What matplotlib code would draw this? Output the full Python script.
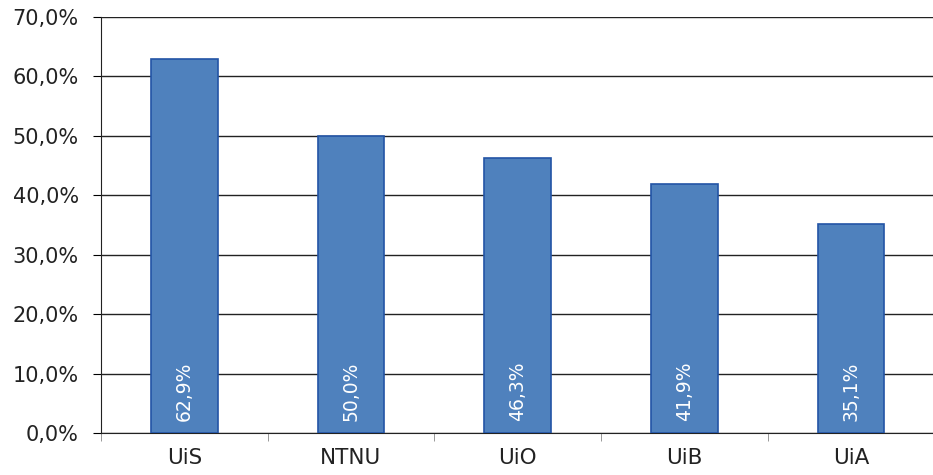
import matplotlib.pyplot as plt
from matplotlib.ticker import FuncFormatter

categories = ['UiS', 'NTNU', 'UiO', 'UiB', 'UiA']
values = [62.9, 50.0, 46.3, 41.9, 35.1]
bar_labels = ['62,9%', '50,0%', '46,3%', '41,9%', '35,1%']

plt.rcParams['font.family'] = ['DejaVu Sans']

fig = plt.figure(figsize=(9.33, 4.75), dpi=100)
ax = fig.add_axes([0.1083, 0.0884, 0.893, 0.876])

x = range(len(categories))
bars = ax.bar(x, values, width=0.40, color='#4F81BD', edgecolor='#2354A5', linewidth=1.2, zorder=3)

for b, lab in zip(bars, bar_labels):
    ax.text(b.get_x() + b.get_width() / 2, 2.0, lab, rotation=90, ha='center', va='bottom',
            color='white', fontsize=13.5, zorder=4)

ax.set_ylim(0, 70)
ax.set_xlim(-0.5, len(categories) - 0.5)
ax.set_yticks(range(0, 71, 10))
ax.yaxis.set_major_formatter(FuncFormatter(lambda v, p: f'{v:.1f}%'.replace('.', ',')))
ax.yaxis.grid(True, color='#222222', linewidth=1, zorder=0)

ax.set_xticks(x)
ax.set_xticklabels(categories)
ax.set_xticks([i + 0.5 for i in range(-1, len(categories))], minor=True)
ax.tick_params(axis='x', which='major', length=0, pad=11, labelsize=15.5, labelcolor='#222222')
ax.tick_params(axis='x', which='minor', length=6, color='#888888', direction='out')
ax.tick_params(axis='y', length=6, direction='out', labelsize=15, pad=10, labelcolor='#222222')

for s in ['top', 'right']:
    ax.spines[s].set_visible(False)
ax.spines['left'].set_color('#222222')
ax.spines['bottom'].set_color('#222222')

fig.savefig('out.png', dpi=100)
